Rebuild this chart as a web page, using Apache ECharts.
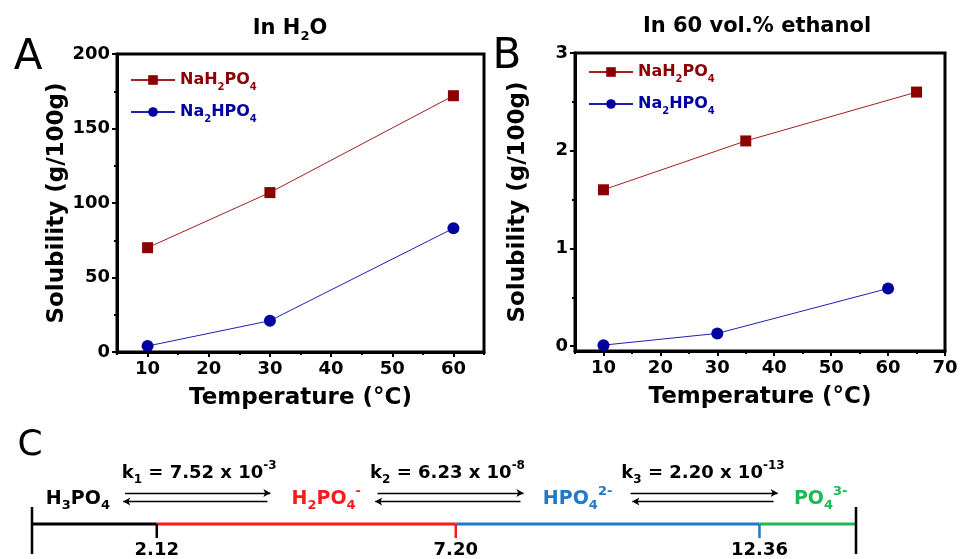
<!DOCTYPE html>
<html>
<head>
<meta charset="utf-8">
<script src="https://cdn.jsdelivr.net/npm/echarts@6/dist/echarts.min.js"></script>
<style>
  html, body { margin: 0; padding: 0; background: #fff; }
  #chart { width: 960px; height: 559px; }
</style>
</head>
<body>
<div id="chart"></div>
<script>
// panel A: in water
var tempA = [10, 30, 60];
var naH2A = [70, 107, 172];
var na2HA = [4, 21, 83];
// panel B: in 60 vol.% ethanol
var tempB1 = [10, 35, 65];
var naH2B = [1.6, 2.1, 2.6];
var tempB2 = [10, 30, 60];
var na2HB = [0.01, 0.13, 0.59];
// tick labels
var xTicksA = [10, 20, 30, 40, 50, 60];
var xMinorA = [5, 15, 25, 35, 45, 55, 65];
var yTicksA = [0, 50, 100, 150, 200];
var yMinorA = [25, 75, 125, 175];
var xTicksB = [10, 20, 30, 40, 50, 60, 70];
var xMinorB = [5, 15, 25, 35, 45, 55, 65];
var yTicksB = [0, 1, 2, 3];
var yMinorB = [0.5, 1.5, 2.5];
// panel C: pKa scale
var pHRange = [0, 14];
var pKa = [2.12, 7.20, 12.36];
var pKaLabels = ['2.12', '7.20', '12.36'];
var segColors = ['#000000', '#ff1a1a', '#1f78c8', '#1db954'];

var FONT = 'DejaVu Sans';
var RED = '#8b0000';
var BLUE = '#0000a0';

function pairs(xs, ys) {
  return xs.map(function (x, i) { return [x, ys[i]]; });
}

// rich styles: key = normal, key+s = subscript, key+u = superscript
function richSet(key, color, size, sub) {
  var base = { fontFamily: FONT, fontWeight: 'bold', color: color, textBorderWidth: 0 };
  var r = {};
  r[key] = merge(base, { fontSize: size, lineHeight: size + 8 });
  r[key + 's'] = merge(base, { fontSize: sub, lineHeight: sub, verticalAlign: 'bottom' });
  r[key + 'u'] = merge(base, { fontSize: sub, lineHeight: sub, verticalAlign: 'top' });
  return r;
}
function merge() {
  var o = {};
  for (var i = 0; i < arguments.length; i++) for (var k in arguments[i]) o[k] = arguments[i][k];
  return o;
}

var legendRich = merge(richSet('r', RED, 16, 10), richSet('b', BLUE, 16, 10));
function legendFmt(name) {
  return name === 'NaH2PO4' ? '{r|NaH}{rs|2}{r|PO}{rs|4}' : '{b|Na}{bs|2}{b|HPO}{bs|4}';
}

var cRich = merge(
  richSet('c0', segColors[0], 19, 13),
  richSet('c1', segColors[1], 19, 13),
  richSet('c2', segColors[2], 19, 13),
  richSet('c3', segColors[3], 19, 13),
  richSet('k', '#000', 18, 12)
);

function mainX(gridIndex, min, max, ticks, name) {
  return {
    type: 'value', gridIndex: gridIndex, min: min, max: max, position: 'bottom',
    name: name, nameLocation: 'middle', nameGap: 35,
    nameTextStyle: { fontFamily: FONT, fontWeight: 'bold', fontSize: 23, color: '#000' },
    axisLine: { show: true, onZero: false, lineStyle: { color: '#000', width: 3 } },
    axisTick: { show: true, inside: false, length: 5, customValues: ticks, lineStyle: { color: '#000', width: 2 } },
    axisLabel: { customValues: ticks, margin: 8, fontFamily: FONT, fontWeight: 'bold', fontSize: 18, color: '#000' },
    splitLine: { show: false }
  };
}
function minorAxis(gridIndex, min, max, ticks, pos) {
  return {
    type: 'value', gridIndex: gridIndex, min: min, max: max, position: pos,
    axisLine: { show: false, onZero: false },
    axisTick: { show: true, length: 3, customValues: ticks, lineStyle: { color: '#000', width: 2 } },
    axisLabel: { show: false },
    splitLine: { show: false }
  };
}
function mainY(gridIndex, min, max, ticks) {
  return {
    type: 'value', gridIndex: gridIndex, min: min, max: max, position: 'left',
    name: 'Solubility (g/100g)', nameLocation: 'middle', nameRotate: 90, nameGap: 45,
    nameTextStyle: { fontFamily: FONT, fontWeight: 'bold', fontSize: 23, color: '#000' },
    axisLine: { show: true, onZero: false, lineStyle: { color: '#000', width: 3 } },
    axisTick: { show: true, length: 5, customValues: ticks, lineStyle: { color: '#000', width: 2 } },
    axisLabel: { customValues: ticks, margin: 7, fontFamily: FONT, fontWeight: 'bold', fontSize: 18, color: '#000' },
    splitLine: { show: false }
  };
}

// pH segments built from pKa values
var bounds = [pHRange[0]].concat(pKa).concat([pHRange[1]]);
var cSeries = [];
for (var i = 0; i < bounds.length - 1; i++) {
  cSeries.push({
    type: 'line', xAxisIndex: 4, yAxisIndex: 4, symbol: 'none', silent: true,
    data: [[bounds[i], 0], [bounds[i + 1], 0]],
    lineStyle: { color: segColors[i], width: 3 }
  });
}
pKa.forEach(function (p, i) {
  cSeries.push({
    type: 'line', xAxisIndex: 4, yAxisIndex: 4, symbol: 'none', silent: true,
    data: [[p, 0], [p, -1.4]],
    lineStyle: { color: segColors[i], width: 2.5 }
  });
});
pHRange.forEach(function (p) {
  cSeries.push({
    type: 'line', xAxisIndex: 4, yAxisIndex: 4, symbol: 'none', silent: true,
    data: [[p, 1.7], [p, -3]],
    lineStyle: { color: '#000', width: 2.5 }
  });
});
cSeries.push({
  type: 'scatter', xAxisIndex: 4, yAxisIndex: 4, symbolSize: 0, silent: true,
  itemStyle: { opacity: 1 },
  data: pKa.map(function (p, i) { return { value: [p, -2.6], name: pKaLabels[i] }; }),
  label: {
    show: true, position: 'inside', formatter: '{b}', fontFamily: FONT, fontWeight: 'bold',
    fontSize: 18, color: '#000', textBorderWidth: 0, opacity: 1
  }
});
// species and equilibrium constants
var cText = [
  { value: [0.78, 2.5], t: '{c0|H}{c0s|3}{c0|PO}{c0s|4}' },
  { value: [5.0, 2.5], t: '{c1|H}{c1s|2}{c1|PO}{c1s|4}{c1u|-}' },
  { value: [9.27, 2.5], t: '{c2|HPO}{c2s|4}{c2u|2-}' },
  { value: [13.4, 2.5], t: '{c3|PO}{c3s|4}{c3u|3-}' },
  { value: [2.84, 5.1], t: '{k|k}{ks|1}{k| = 7.52 x 10}{ku|-3}' },
  { value: [7.06, 5.1], t: '{k|k}{ks|2}{k| = 6.23 x 10}{ku|-8}' },
  { value: [11.4, 5.1], t: '{k|k}{ks|3}{k| = 2.20 x 10}{ku|-13}' }
];
cSeries.push({
  type: 'scatter', xAxisIndex: 4, yAxisIndex: 4, symbolSize: 0, silent: true,
  itemStyle: { opacity: 1 },
  data: cText.map(function (d) { return { value: d.value }; }),
  label: {
    show: true, position: 'inside', rich: cRich, textBorderWidth: 0, color: '#000', opacity: 1,
    formatter: function (p) { return cText[p.dataIndex].t; }
  }
});
// equilibrium arrows
var arrows = [
  [[1.58, 3.1], [4.05, 3.1]], [[4.0, 2.25], [1.55, 2.25]],
  [[5.87, 3.1], [8.35, 3.1]], [[8.3, 2.25], [5.83, 2.25]],
  [[10.17, 3.1], [12.67, 3.1]], [[12.6, 2.25], [10.2, 2.25]]
];
cSeries[0].markLine = {
  silent: true, symbol: ['none', 'arrow'], symbolSize: [6, 7], animation: false,
  lineStyle: { color: '#000', width: 1.3, type: 'solid' },
  label: { show: false },
  data: arrows.map(function (a) { return [{ coord: a[0] }, { coord: a[1] }]; })
};

var option = {
  backgroundColor: '#fff',
  animation: false,
  grid: [
    { left: 117, top: 54, right: 476, bottom: 207, show: true, borderColor: '#000', borderWidth: 3, outerBoundsMode: 'none' },
    { left: 575, top: 53, right: 15, bottom: 208, show: true, borderColor: '#000', borderWidth: 3, outerBoundsMode: 'none' },
    { left: 32, right: 104, top: 464, height: 90, show: false, outerBoundsMode: 'none' }
  ],
  xAxis: [
    mainX(0, 5, 65, xTicksA, 'Temperature (°C)'),
    minorAxis(0, 5, 65, xMinorA, 'bottom'),
    mainX(1, 5, 70, xTicksB, 'Temperature (°C)'),
    minorAxis(1, 5, 70, xMinorB, 'bottom'),
    { type: 'value', gridIndex: 2, show: false, min: pHRange[0], max: pHRange[1] }
  ],
  yAxis: [
    mainY(0, 0, 200, yTicksA),
    minorAxis(0, 0, 200, yMinorA, 'left'),
    mainY(1, -0.05, 3, yTicksB),
    minorAxis(1, -0.05, 3, yMinorB, 'left'),
    { type: 'value', gridIndex: 2, show: false, min: -3, max: 6 }
  ],
  legend: [
    {
      orient: 'vertical', left: 125, top: 67, itemWidth: 44, itemHeight: 12, itemGap: 12,
      data: ['NaH2PO4', 'Na2HPO4'], formatter: legendFmt, textStyle: { rich: legendRich }
    },
    {
      orient: 'vertical', left: 583, top: 59, itemWidth: 44, itemHeight: 12, itemGap: 12,
      data: ['NaH2PO4', 'Na2HPO4'], formatter: legendFmt, textStyle: { rich: legendRich }
    }
  ],
  graphic: [
    { type: 'text', x: 28, y: 58, style: { text: 'A', font: 'normal 42px "DejaVu Sans"', fill: '#000', align: 'center', verticalAlign: 'middle' } },
    { type: 'text', x: 507, y: 57, style: { text: 'B', font: 'normal 42px "DejaVu Sans"', fill: '#000', align: 'center', verticalAlign: 'middle' } },
    { type: 'text', x: 30, y: 446, style: { text: 'C', font: 'normal 36px "DejaVu Sans"', fill: '#000', align: 'center', verticalAlign: 'middle' } },
    {
      type: 'text', x: 290, y: 29,
      style: {
        text: '{t|In H}{ts|2}{t|O}', align: 'center', verticalAlign: 'middle',
        rich: richSet('t', '#000', 21, 13)
      }
    },
    {
      type: 'text', x: 757, y: 27,
      style: {
        text: '{t|In 60 vol.% ethanol}', align: 'center', verticalAlign: 'middle',
        rich: richSet('t', '#000', 21, 13)
      }
    }
  ],
  series: [
    {
      name: 'NaH2PO4', type: 'line', xAxisIndex: 0, yAxisIndex: 0,
      data: pairs(tempA, naH2A), symbol: 'rect', symbolSize: 11,
      itemStyle: { color: RED }, lineStyle: { color: '#a02020', width: 1 }
    },
    {
      name: 'Na2HPO4', type: 'line', xAxisIndex: 0, yAxisIndex: 0,
      data: pairs(tempA, na2HA), symbol: 'circle', symbolSize: 12,
      itemStyle: { color: BLUE }, lineStyle: { color: '#2020b0', width: 1 }
    },
    {
      name: 'NaH2PO4', type: 'line', xAxisIndex: 2, yAxisIndex: 2,
      data: pairs(tempB1, naH2B), symbol: 'rect', symbolSize: 11,
      itemStyle: { color: RED }, lineStyle: { color: '#a02020', width: 1 }
    },
    {
      name: 'Na2HPO4', type: 'line', xAxisIndex: 2, yAxisIndex: 2,
      data: pairs(tempB2, na2HB), symbol: 'circle', symbolSize: 12,
      itemStyle: { color: BLUE }, lineStyle: { color: '#2020b0', width: 1 }
    }
  ].concat(cSeries)
};

var chart = echarts.init(document.getElementById('chart'), null, { renderer: 'canvas' });
chart.setOption(option);
</script>
</body>
</html>
